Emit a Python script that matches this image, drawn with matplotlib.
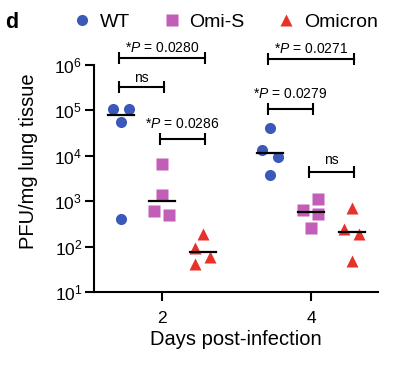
import numpy as np
import matplotlib
matplotlib.use('Agg')
import matplotlib.pyplot as plt
from matplotlib.ticker import FixedLocator, LogFormatterSciNotation, NullLocator
from matplotlib.lines import Line2D

plt.rcParams['font.family'] = ['Liberation Sans', 'DejaVu Sans']
plt.rcParams['mathtext.fontset'] = 'custom'
plt.rcParams['mathtext.rm'] = 'Liberation Sans'
plt.rcParams['mathtext.it'] = 'Liberation Sans:italic'

# ---------------- data ----------------
days = ['2', '4']
groups = ['WT', 'Omi-S', 'Omicron']
wt = [[1.05e5, 1.05e5, 5.5e4, 4.1e2], [4.2e4, 1.35e4, 9.3e3, 3.8e3]]
omi_s = [[6.5e3, 1.37e3, 6.0e2, 5.0e2], [1.1e3, 6.4e2, 5.2e2, 2.6e2]]
omicron = [[1.9e2, 92, 60, 41], [7.2e2, 2.4e2, 1.9e2, 48]]

# statistical comparisons: (day index, group a, group b)
comp_pairs = [(0, 0, 2), (0, 0, 1), (0, 1, 2), (1, 0, 2), (1, 0, 1), (1, 1, 2)]
comp_labels = [r'*$\it{P}$ = 0.0280', 'ns', r'*$\it{P}$ = 0.0286',
               r'*$\it{P}$ = 0.0271', r'*$\it{P}$ = 0.0279', 'ns']
comp_heights = [1.42e6, 3.3e5, 2.3e4, 1.35e6, 1.1e5, 4.3e3]

# ---------------- styling ----------------
colors = ['#3A59B8', '#C25DB8', '#E8312B']
markers = ['o', 's', '^']
msizes = [8.0, 8.0, 8.4]
group_offset = 0.275
# horizontal jitter (pixel-ish units / 149) for each point
jitter = [
    [[-8, 8, 0, 0], [0, 0, -8, 7], [0, -8, 7, -8]],
    [[0, -8, 8, 0], [7, -8, 7, 0], [0, -8, 7, 0]],
]
# vertical gap (points) between bracket and its label
label_gap = [4.3, 3.6, 7.9, 4.3, 7.9, 5.8]

series = [wt, omi_s, omicron]

fig = plt.figure(figsize=(4.05, 3.65), dpi=100)
ax = fig.add_axes([94 / 405, 1 - 292 / 365, (378 - 94) / 405, (292 - 65) / 365])

for d in range(len(days)):
    for g in range(len(groups)):
        vals = np.array(series[g][d])
        xc = d + (g - 1) * group_offset
        xs = xc + np.array(jitter[d][g]) / 149.0
        ax.plot(xs, vals, linestyle='none', marker=markers[g], ms=msizes[g],
                color=colors[g], mec='none', zorder=3, clip_on=False)
        med = np.median(vals)
        ax.plot([xc - 0.09, xc + 0.09], [med, med], color='black', lw=1.6, zorder=4)

for (d, a, b), lab, h, gap in zip(comp_pairs, comp_labels, comp_heights, label_gap):
    x1 = d + (a - 1) * group_offset - 0.015
    x2 = d + (b - 1) * group_offset + 0.015
    ax.plot([x1, x2], [h, h], color='black', lw=1.5, marker='|', ms=8, mew=1.5,
            clip_on=False, zorder=5)
    ax.annotate(lab, xy=((x1 + x2) / 2, h), xytext=(0, gap), textcoords='offset points',
                ha='center', va='baseline', fontsize=10, annotation_clip=False)

ax.set_yscale('log')
ax.set_ylim(1e1, 1e6)
ax.set_xlim(-0.456, 1.45)
ax.yaxis.set_major_locator(FixedLocator([1e1, 1e2, 1e3, 1e4, 1e5, 1e6]))
ax.yaxis.set_major_formatter(LogFormatterSciNotation())
ax.yaxis.set_minor_locator(NullLocator())
ax.set_xticks([0, 1])
ax.set_xticklabels(days)

for s in ['top', 'right']:
    ax.spines[s].set_visible(False)
for s in ['left', 'bottom']:
    ax.spines[s].set_linewidth(1.5)
ax.tick_params(axis='both', width=1.5, length=6.5, labelsize=12.5, direction='out')
ax.tick_params(axis='y', pad=2)
ax.tick_params(axis='x', pad=7)

ax.set_ylabel('PFU/mg lung tissue', fontsize=14.5)
ax.yaxis.set_label_coords(-0.197, 0.577)
ax.set_xlabel('Days post-infection', fontsize=14.5, labelpad=3)

handles = [Line2D([], [], linestyle='none', marker=markers[i], color=colors[i], mec='none',
                  ms=msizes[i]) for i in range(3)]
fig.legend(handles, groups, loc='upper left', bbox_to_anchor=(0.165, 0.985), ncol=3,
           frameon=False, fontsize=14, handlelength=0.8, handletextpad=0.5,
           columnspacing=1.75, borderaxespad=0)

fig.text(0.012, 0.923, 'd', fontsize=15.5, fontweight='bold', ha='left', va='baseline')

fig.savefig('out.png', dpi=100)
